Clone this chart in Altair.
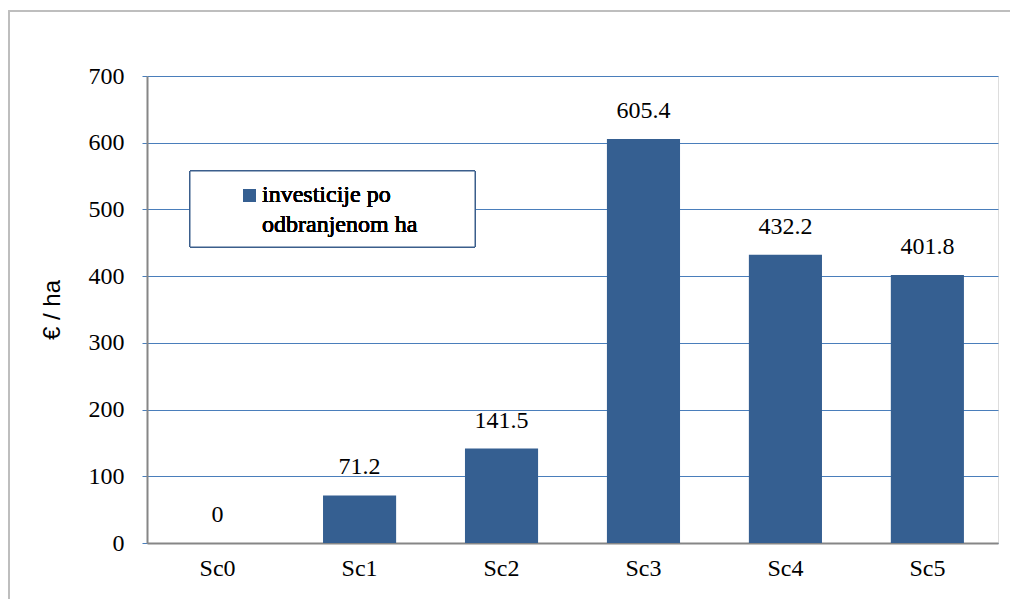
import altair as alt
import pandas as pd

categories = ["Sc0", "Sc1", "Sc2", "Sc3", "Sc4", "Sc5"]
values = [0, 71.2, 141.5, 605.4, 432.2, 401.8]
labels = ["0", "71.2", "141.5", "605.4", "432.2", "401.8"]
y_ticks = [0, 100, 200, 300, 400, 500, 600, 700]
legend_line1 = "investicije po"
legend_line2 = "odbranjenom ha"
y_title = "€ / ha"

df = pd.DataFrame({"cat": categories, "val": values, "lab": labels})

BAR = "#355F91"
GRID = "#4A7EBB"
SERIF = "Liberation Serif"
FS = 24
W, H = 851, 467
PL, PT, PR, PB = 139, 68, 12, 56

x = alt.X("cat:N", sort=categories, title=None,
          scale=alt.Scale(paddingInner=0.485, paddingOuter=0.24),
          axis=alt.Axis(labelAngle=0, labelFont=SERIF, labelFontSize=FS, labelColor="#000000",
                        labelPadding=13, ticks=False, domainColor="#868686", domainWidth=2))
y = alt.Y("val:Q", title=y_title,
          scale=alt.Scale(domain=[0, 700], nice=False),
          axis=alt.Axis(values=y_ticks, labelFont=SERIF, labelFontSize=FS, labelColor="#000000",
                        labelPadding=18, tickSize=5, tickColor=GRID, gridColor=GRID, gridWidth=1,
                        domainColor="#868686", domainWidth=2,
                        titleFont="Liberation Sans", titleFontSize=24, titleFontWeight="normal",
                        titleColor="#000000", titlePadding=24))

bars = alt.Chart(df).mark_bar(color=BAR).encode(x=x, y=y)
text = alt.Chart(df).mark_text(font=SERIF, fontSize=FS, baseline="alphabetic", dy=-21, color="#000000").encode(
    x=alt.X("cat:N", sort=categories), y="val:Q", text="lab:N")

legend_box = alt.Chart(df).mark_rect(fill="white", stroke="#385D8A", strokeWidth=1).encode(
    x=alt.value(43), x2=alt.value(328), y=alt.value(95), y2=alt.value(171))
legend_sym = alt.Chart(df).mark_rect(fill=BAR).encode(
    x=alt.value(96), x2=alt.value(109), y=alt.value(113), y2=alt.value(126))
legend_t1 = alt.Chart(df).mark_text(font=SERIF, fontSize=FS, align="left", baseline="alphabetic", color="#000000").encode(
    x=alt.value(115), y=alt.value(126), text=alt.value(legend_line1))
legend_t2 = alt.Chart(df).mark_text(font=SERIF, fontSize=FS, align="left", baseline="alphabetic", color="#000000").encode(
    x=alt.value(115), y=alt.value(156), text=alt.value(legend_line2))
outer = alt.Chart(df).mark_rect(fill=None, stroke="#BFBFBF", strokeWidth=1.5).encode(
    x=alt.value(-138), x2=alt.value(W + 60), y=alt.value(-65), y2=alt.value(H + 90))

chart = alt.layer(outer, bars, text, legend_box, legend_sym, legend_t1, legend_t2).properties(
    width=W, height=H,
    autosize=alt.AutoSizeParams(type="none"),
    padding={"left": PL, "top": PT, "right": PR, "bottom": PB},
).configure_view(stroke=GRID, strokeWidth=1).configure(background="white")

chart.save("out.html", embed_options={"renderer": "svg", "actions": False})
